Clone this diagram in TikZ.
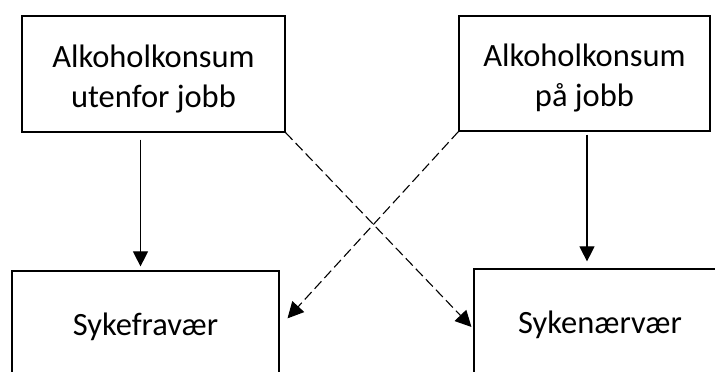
\documentclass[tikz,border=0pt]{standalone}
\usepackage{fontspec}
\setmainfont{Carlito}
\usetikzlibrary{arrows.meta}
\tikzset{
  box/.style={draw, line width=1.2pt, inner sep=0pt},
  caption/.style={align=center, inner sep=0pt, font=\fontsize{32.5}{40}\selectfont},
  link/.style={line width=1.1pt, -{Triangle[length=15pt,width=15pt]}},
  dashlink/.style={line width=1.1pt, dash pattern=on 10pt off 4.5pt,
    -{Triangle[length=16pt,width=16pt]}}
}
\begin{document}
\begin{tikzpicture}[x=1pt,y=-1pt]
\useasboundingbox (0,0) rectangle (715,372);
\clip (0,0) rectangle (715,372);
% causes
\node[box, minimum width=263pt, minimum height=116pt] (tl) at (153.5,74) {};
\node[caption] (tltext) at ([yshift=-5pt]tl.center) {Alkoholkonsum\\utenfor jobb};
\node[box, minimum width=251pt, minimum height=115pt] (tr) at (584.5,73.5) {};
\node[caption] (trtext) at ([yshift=-5pt]tr.center) {Alkoholkonsum\\på jobb};
% outcomes (running past the lower edge)
\node[box, minimum width=267pt, minimum height=112pt] (bl) at (145.5,327) {};
\node[caption] (bltext) at (bl.center) {Sykefravær};
\node[box, minimum width=252pt, minimum height=112pt] (br) at (600,325) {};
\node[caption] (brtext) at (br.center) {Sykenærvær};
% direct effects
\draw[link, shorten <=7pt, shorten >=4pt] ([xshift=-13pt]tl.south) -- ([xshift=-5pt]bl.north);
\draw[link, shorten <=3pt, shorten >=7pt] ([xshift=2.5pt]tr.south) -- ([xshift=-13pt]br.north);
% cross effects
\draw[dashlink, shorten >=11.7pt] (tr.south west) -- (bl.east);
\draw[dashlink, shorten >=2.8pt] (tl.south east) -- ([yshift=-4pt]br.west);
\end{tikzpicture}
\end{document}
